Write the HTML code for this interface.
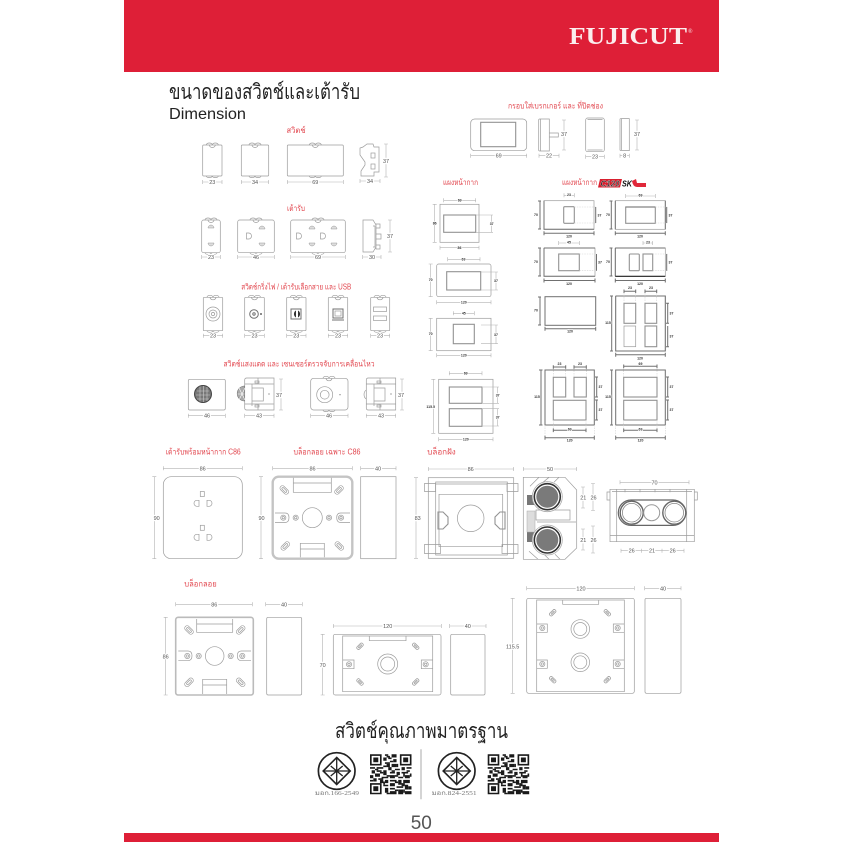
<!DOCTYPE html>
<html lang="th"><head><meta charset="utf-8"><title>Dimension</title>
<style>
html,body{margin:0;padding:0;background:#fff}
svg{display:block;filter:blur(.3px)}
text{font-family:"Liberation Sans","Noto Sans CJK SC",sans-serif}
.l{fill:none;stroke:#9c9c9c;stroke-width:.7}
.l2{fill:none;stroke:#929292;stroke-width:1.1}
.d{fill:none;stroke:#b2b2b2;stroke-width:.6}
.e{fill:none;stroke:#d2d2d2;stroke-width:.6;stroke-dasharray:1.5 1}
.k{fill:none;stroke:#707070;stroke-width:1}
.t{font-size:5.5px;fill:#555;text-anchor:middle;paint-order:stroke;stroke:#fff;stroke-width:2.4px}
.s{font-size:3.5px;font-weight:bold;fill:#333;text-anchor:middle;paint-order:stroke;stroke:#fff;stroke-width:1.5px}
.r{font-size:8px;fill:#e2474f;text-anchor:middle}
</style></head><body>
<svg width="842" height="842" viewBox="0 0 842 842" xmlns="http://www.w3.org/2000/svg">
<defs>
<g id="b"><path class="l" d="M-6 0a3 2 0 0 1 6 0a3 2 0 0 1 6 0M-3 0a3 2.5 0 0 0 6 0"/></g>
<g id="c"><path class="l" d="M-6 0a3 1.6 0 0 0 6 0a3 1.6 0 0 0 6 0"/></g>
<g id="so"><path d="M-3 1a3 3 0 0 1 6 0z" fill="#ddd" stroke="#999" stroke-width=".5"/></g>
<g id="su"><path d="M-3 -1a3 3 0 0 0 6 0z" fill="#ddd" stroke="#999" stroke-width=".5"/></g>
<path id="dd" class="l" d="M-2.5 -3h2.2a2.8 3 0 0 1 0 6h-2.2z"/>
<g id="sl"><rect x="-5" y="-2.4" width="10" height="4.8" rx="2.2" class="l"/><rect x="-3" y="-1" width="6" height="2" rx="1" class="l"/></g>
<g id="sm"><rect x="-3.8" y="-1.7" width="7.6" height="3.4" rx="1.6" class="l"/><rect x="-2" y="-.6" width="4" height="1.2" rx=".6" class="l"/></g>
<g id="cc"><circle r="2.6" class="l"/><circle r="1.2" class="l"/></g>
<g id="std"><circle r="18.3" fill="none" stroke="#222" stroke-width="1.7"/><path d="M0 -13.5L13.5 0L0 13.5L-13.5 0Z" fill="none" stroke="#222" stroke-width="1.6"/><path d="M0 -13.5V13.5M-13.5 0H13.5M-6 -5L0 0L6 -5M-6 5L0 0L6 5" fill="none" stroke="#222" stroke-width="1.3"/></g>
<g id="qr" fill="#1a1a1a">
<path d="M0 0h7v7h-7zM1 1v5h5v-5zM2 2h3v3h-3zM18 0h7v7h-7zM19 1v5h5v-5zM20 2h3v3h-3zM0 18h7v7h-7zM1 19v5h5v-5zM2 20h3v3h-3z" fill-rule="evenodd"/>
<path d="M9 0h2v1h-2zM13 0h3v2h-3zM8 2h2v2h-2zM11 2h2v1h-2zM14 3h2v2h-2zM9 5h3v1h-3zM13 6h3v2h-3zM8 7h2v1h-2zM0 8h3v1h-3zM4 8h4v1h-4zM11 8h2v2h-2zM15 9h3v1h-3zM19 8h2v2h-2zM22 8h3v1h-3zM1 10h2v2h-2zM4 10h3v1h-3zM8 10h2v3h-2zM12 11h3v1h-3zM16 11h2v2h-2zM19 11h4v1h-4zM0 13h2v2h-2zM3 12h3v2h-3zM7 14h4v1h-4zM12 13h3v2h-3zM17 14h3v1h-3zM21 13h3v2h-3zM2 15h2v2h-2zM5 15h3v1h-3zM9 16h2v2h-2zM12 16h4v1h-4zM17 16h2v3h-2zM20 16h4v2h-4zM8 19h3v1h-3zM12 18h3v2h-3zM16 20h4v1h-4zM21 19h2v3h-2zM9 21h2v3h-2zM12 21h3v1h-3zM17 22h3v3h-3zM12 23h4v2h-4zM21 23h4v2h-4z"/>
<path d="M10 1h2v1h-2zM12 4h2v1h-2zM10 6h2v2h-2zM16 6h1v2h-1zM3 9h2v1h-2zM13 10h2v1h-2zM22 10h2v1h-2zM6 11h2v1h-2zM24 12h1v2h-1zM10 13h2v1h-2zM15 13h2v1h-2zM20 12h1v2h-1zM6 16h2v2h-2zM0 16h2v1h-2zM15 17h2v1h-2zM19 18h2v2h-2zM23 20h2v2h-2zM15 22h2v1h-2zM10 24h2v1h-2zM8 17h1v2h-1zM20 22h1v2h-1z"/>
</g>
</defs>

<!-- header / footer -->
<rect x="124" y="0" width="595" height="72" fill="#de1f37"/>
<rect x="124" y="833" width="595" height="9" fill="#de1f37"/>
<text x="569" y="44" font-size="24" font-weight="bold" fill="#fbeeee" textLength="118" lengthAdjust="spacingAndGlyphs" style='font-family:"Liberation Serif",serif'>FUJICUT</text>
<text x="688" y="33" font-size="6" fill="#fbeeee" style='font-family:"Liberation Serif",serif'>®</text>

<text x="169" y="99" font-size="21" fill="#222" textLength="191" lengthAdjust="spacingAndGlyphs">ขนาดของสวิตช์และเต้ารับ</text>
<text x="169" y="119" font-size="16" fill="#222" textLength="77" lengthAdjust="spacingAndGlyphs">Dimension</text>

<!-- row 1 switch -->
<text class="r" x="296" y="133" textLength="19" lengthAdjust="spacingAndGlyphs">สวิตช์</text>
<rect class="l" x="202.7" y="145" width="19.3" height="31" rx="1"/><use href="#b" x="212.3" y="145"/><use href="#c" x="212.3" y="176"/>
<rect class="l" x="241.3" y="145" width="27.4" height="31" rx="1"/><use href="#b" x="255" y="145"/><use href="#c" x="255" y="176"/>
<rect class="l" x="287.3" y="145" width="56" height="31" rx="1"/><use href="#b" x="315.3" y="145"/><use href="#c" x="315.3" y="176"/>
<path class="l" d="M367 144h6l1 3h5v25h-5v4h-13v-5l4-6v-3l-5-7v-7l3-1z"/><rect class="l" x="371" y="153" width="4" height="5"/><rect class="l" x="371" y="164" width="4" height="5"/>
<path class="d" d="M202.7 182H222M202.7 180v4M222 180v4M241.3 182H268.7M241.3 180v4M268.7 180v4M287.3 182H343.3M287.3 180v4M343.3 180v4M360 181H380M360 179v4M380 179v4M386 144V177M384 144h4M384 177h4"/>
<text class="t" x="212.3" y="184">23</text><text class="t" x="255" y="184">34</text><text class="t" x="315.3" y="184">69</text><text class="t" x="370" y="183">34</text><text class="t" x="386" y="163">37</text>

<!-- row 2 socket -->
<text class="r" x="296" y="211" textLength="18" lengthAdjust="spacingAndGlyphs">เต้ารับ</text>
<rect class="l" x="201.7" y="220" width="18.6" height="32.7" rx="2"/><use href="#b" x="211" y="220"/><use href="#c" x="211" y="252.7"/><use href="#so" x="211" y="227"/><use href="#su" x="211" y="244"/>
<rect class="l" x="237.7" y="220" width="36.6" height="32.7" rx="2"/><use href="#b" x="256" y="220"/><use href="#c" x="256" y="252.7"/><use href="#dd" x="249" y="236"/><use href="#so" x="262" y="228"/><use href="#su" x="262" y="244"/>
<rect class="l" x="290.7" y="220" width="54.6" height="32.7" rx="2"/><use href="#b" x="318" y="220"/><use href="#c" x="318" y="252.7"/><use href="#dd" x="299" y="236"/><use href="#so" x="312" y="228"/><use href="#su" x="312" y="244"/><use href="#dd" x="323" y="236"/><use href="#so" x="334" y="228"/><use href="#su" x="334" y="244"/>
<path class="l" d="M363 220h10l3 5v22l-3 5h-10zM373 226h2v21h-2M376 224h4v4h-4zM376 234h5v5h-5zM376 245h4v4h-4z"/>
<path class="d" d="M201.7 257H220.3M201.7 255v4M220.3 255v4M237.7 257H274.3M237.7 255v4M274.3 255v4M290.7 257H345.3M290.7 255v4M345.3 255v4M362.7 257H381M362.7 255v4M381 255v4M390 220V252M388 220h4M388 252h4"/>
<text class="t" x="211" y="259">23</text><text class="t" x="256" y="259">46</text><text class="t" x="318" y="259">69</text><text class="t" x="372" y="259">30</text><text class="t" x="390" y="238">37</text>

<!-- row 3 -->
<text class="r" x="296.3" y="289.5" textLength="110" lengthAdjust="spacingAndGlyphs">สวิตช์กริ่งไฟ / เต้ารับเลือกสาย และ USB</text>
<rect class="l" x="203.3" y="297.3" width="19.4" height="33.4" rx="1"/><use href="#b" x="213" y="297.3"/><use href="#c" x="213" y="330.7"/><circle class="l" cx="213" cy="314" r="7"/><circle class="l" cx="213" cy="314" r="4"/><circle class="l" cx="213" cy="314" r="1.6"/>
<rect class="l" x="244.7" y="297.3" width="19.6" height="33.4" rx="1"/><use href="#b" x="254.5" y="297.3"/><use href="#c" x="254.5" y="330.7"/><circle class="k" cx="254" cy="314" r="4.3"/><circle class="k" cx="254" cy="314" r="1.2"/><circle cx="261" cy="314" r="1" fill="#666"/>
<rect class="l" x="286.7" y="297.3" width="19.3" height="33.4" rx="1"/><use href="#b" x="296.3" y="297.3"/><use href="#c" x="296.3" y="330.7"/><rect class="k" x="291" y="309" width="10" height="10"/><path d="M296 310.5a4 4 0 0 0 0 7zM298 310.5a4 4 0 0 1 0 7z" fill="#333"/>
<rect class="l" x="328.3" y="297.3" width="19.4" height="33.4" rx="1"/><use href="#b" x="338" y="297.3"/><use href="#c" x="338" y="330.7"/><rect class="k" x="333" y="309" width="10" height="9"/><rect class="l" x="335" y="311" width="6" height="5"/><path class="k" d="M332 320h12"/>
<rect class="l" x="370.7" y="297.3" width="19" height="33.4" rx="1"/><use href="#b" x="380" y="297.3"/><use href="#c" x="380" y="330.7"/><rect class="l" x="373.5" y="307" width="13" height="4.5"/><rect class="l" x="373.5" y="316" width="13" height="4.5"/>
<path class="d" d="M203.3 335.7H222.7M203.3 333.7v4M222.7 333.7v4M244.7 335.7H264.3M244.7 333.7v4M264.3 333.7v4M286.7 335.7H306M286.7 333.7v4M306 333.7v4M328.3 335.7H347.7M328.3 333.7v4M347.7 333.7v4M370.7 335.7H389.7M370.7 333.7v4M389.7 333.7v4"/>
<text class="t" x="213" y="337.7">23</text><text class="t" x="254.5" y="337.7">23</text><text class="t" x="296.3" y="337.7">23</text><text class="t" x="338" y="337.7">23</text><text class="t" x="380" y="337.7">23</text>

<!-- row 4 -->
<text class="r" x="299" y="366.5" textLength="151" lengthAdjust="spacingAndGlyphs">สวิตช์แสงแดด และ เซนเซอร์ตรวจจับการเคลื่อนไหว</text>
<rect class="l" x="188.3" y="379.3" width="37" height="30.7" rx="1.5"/>
<circle cx="203" cy="394" r="8.5" fill="#777" stroke="#444"/>
<path d="M197 391h12M196 395h14M197 399h12M200 386.5v15M203.5 386v16M207 387v14" stroke="#ccc" stroke-width=".6" fill="none"/>
<path class="l" d="M244.7 380q0-2 2-2h27.3v32h-27.3q-2 0-2-2z"/><path class="l" d="M244.7 384h29M244.7 404h29M252 384v22M252.3 388h11v13h-11M258 378v6M258 404v6"/><rect class="l" x="255" y="381" width="4" height="2"/><rect class="l" x="255" y="405" width="4" height="2"/><circle cx="269" cy="394" r=".6" fill="#666"/>
<path d="M244.7 386a7 7 0 0 0 0 15z" fill="#aaa" stroke="#777" stroke-width=".6"/><path d="M239 388l6 12M237.5 394h7M239 400l6-12" stroke="#fff" stroke-width=".6" fill="none"/>
<rect class="l" x="310.7" y="378.3" width="37.3" height="31.7" rx="3"/><use href="#b" x="329" y="378.3"/><use href="#c" x="329" y="410"/><circle class="l" cx="324.7" cy="394.7" r="8"/><circle class="l" cx="324.7" cy="394.7" r="4.4"/><circle cx="340" cy="394.7" r=".6" fill="#666"/>
<path class="l" d="M366.3 380q0-2 2-2h27.4v32h-27.4q-2 0-2-2z"/><path class="l" d="M366.3 384h29.4M366.3 404h29.4M374 384v22M374 388h11v13h-11M380 378v6M380 404v6"/><rect class="l" x="377" y="381" width="4" height="2"/><rect class="l" x="377" y="405" width="4" height="2"/><circle cx="391" cy="394" r=".6" fill="#666"/><path class="l" d="M366.3 390a4 5 0 0 0 0 9"/>
<path class="d" d="M188.3 415.7H225.3M188.3 413.7v4M225.3 413.7v4M244.7 415.7H274M244.7 413.7v4M274 413.7v4M310.7 415.7H348M310.7 413.7v4M348 413.7v4M366.3 415.7H395.7M366.3 413.7v4M395.7 413.7v4M281 379V410M279 379h4M279 410h4M402 379V410M400 379h4M400 410h4"/>
<text class="t" x="207" y="417.7">46</text><text class="t" x="259" y="417.7">43</text><text class="t" x="329" y="417.7">46</text><text class="t" x="381" y="417.7">43</text><text class="t" x="279" y="397">37</text><text class="t" x="401" y="397">37</text>

<!-- frame / cover -->
<text class="r" x="555.5" y="108.5" textLength="95" lengthAdjust="spacingAndGlyphs">กรอบใส่เบรกเกอร์ และ ที่ปิดช่อง</text>
<rect class="l" x="470.7" y="119" width="56" height="31.7" rx="4"/><rect class="l2" x="480.7" y="122.3" width="35" height="24.4"/>
<path class="l" d="M538.7 120q0-1 1-1h9.6v32h-9.6q-1 0-1-1zM549.3 133h9v4h-9zM540.5 119v32"/>
<rect class="l" x="585.7" y="118" width="18.6" height="33.7" rx="2"/><path class="l" d="M587.5 150h15M587.5 119.5h15"/>
<path class="l" d="M620 119q0-.4 1-.4h8.3v32h-8.3q-1 0-1-.6zM621.5 119v31"/>
<path class="d" d="M470.7 155.7H526.7M470.7 153.7v4M526.7 153.7v4M539 155.7H559M539 153.7v4M559 153.7v4M585.7 156.7H604.3M585.7 154.7v4M604.3 154.7v4M620 155.7H629.3M620 153.7v4M629.3 153.7v4M564 120V150M562 120h4M562 150h4M637 120V150M635 120h4M635 150h4"/>
<text class="t" x="498.7" y="157.7">69</text><text class="t" x="549" y="157.7">22</text><text class="t" x="595" y="158.7">23</text><text class="t" x="624.7" y="157.7">8</text><text class="t" x="564" y="136">37</text><text class="t" x="637" y="136">37</text>

<!-- left face plates -->
<text class="r" x="460.5" y="185" textLength="35" lengthAdjust="spacingAndGlyphs">แผงหน้ากาก</text>
<g>
<rect class="l" x="440" y="204.3" width="39" height="38"/><rect class="l2" x="443.7" y="215" width="32" height="17.3"/>
<path class="d" d="M443.7 200.3H475.7M443.7 198.3v4M475.7 198.3v4M434.7 204.3V242.3M432.7 204.3h4M432.7 242.3h4M440 247.7H479M440 245.7v4M479 245.7v4M491.7 215V232.3M476 215h17M476 232.3h17"/>
<text class="s" x="459.7" y="201.5">69</text><text class="s" x="434.7" y="224.5">86</text><text class="s" x="459.5" y="249">86</text><text class="s" x="491.7" y="225">37</text>
<rect class="l" x="436.7" y="264" width="54.3" height="32.7" rx="2"/><rect class="l2" x="446.7" y="271.7" width="34" height="18.3"/>
<path class="d" d="M447.7 259.3H480M447.7 257.3v4M480 257.3v4M430.7 264V296.7M428.7 264h4M428.7 296.7h4M436.7 302.3H491M436.7 300.3v4M491 300.3v4M496 272V290M481 272h17M481 290h17"/>
<text class="s" x="463.5" y="260.5">69</text><text class="s" x="430.7" y="281">70</text><text class="s" x="463.8" y="303.5">120</text><text class="s" x="496" y="282">37</text>
<rect class="l" x="436.7" y="318.3" width="54.3" height="32.4"/><rect class="l2" x="453.3" y="324.3" width="21" height="19.4"/>
<path class="d" d="M453.3 313.3H474.3M453.3 311.3v4M474.3 311.3v4M430.7 318.3V350.7M428.7 318.3h4M428.7 350.7h4M436.7 355.3H491M436.7 353.3v4M491 353.3v4M496 325V343.7M481 325h17M481 343.7h17"/>
<text class="s" x="463.8" y="314.5">45</text><text class="s" x="430.7" y="335">70</text><text class="s" x="463.8" y="356.5">120</text><text class="s" x="496" y="336">37</text>
<rect class="l" x="438.7" y="379.3" width="54.3" height="54"/><rect class="l2" x="449.3" y="387" width="32.7" height="16.3"/><rect class="l2" x="449.3" y="408.7" width="32.7" height="17.6"/>
<path class="d" d="M449.3 373.3H482M449.3 371.3v4M482 371.3v4M433.3 379.3V433.3M431.3 379.3h4M431.3 433.3h4M438.7 439.3H493M438.7 437.3v4M493 437.3v4M497.7 387V403.3M497.7 408.7V426M483 387h16M483 403.3h16M483 408.7h16M483 426h16"/>
<text class="s" x="465.7" y="374.5">69</text><text class="s" x="430.7" y="408">115.5</text><text class="s" x="465.8" y="440.5">120</text><text class="s" x="497.7" y="396.5">37</text><text class="s" x="497.7" y="418.5">37</text>
</g>

<!-- C120 -->
<text class="r" x="579.5" y="185" textLength="35" lengthAdjust="spacingAndGlyphs">แผงหน้ากาก</text>
<path d="M600 179H622L620 187.5H598Z" fill="#d8202f"/>
<text x="600.5" y="186.5" font-size="8" font-weight="bold" font-style="italic" fill="#222" textLength="19" lengthAdjust="spacingAndGlyphs" stroke="#fff" stroke-width=".25">C120</text>
<text x="622" y="186.5" font-size="8" font-weight="bold" font-style="italic" fill="#111" textLength="10" lengthAdjust="spacingAndGlyphs">SK</text>
<path d="M632 181l4-2 1 4h9v4h-9q-4 0-5-6z" fill="#e0283a"/>
<g>
<!-- A -->
<rect class="l" x="544" y="200.7" width="50" height="28.6"/><path class="k" d="M544 200.7V229.3H594"/><rect class="l2" x="563.7" y="206.7" width="10.6" height="16.6" rx="1"/>
<path class="e" d="M574.3 207H596M574.3 223H596"/>
<path class="d" d="M564 195.3H574.3M564 193.3v4M574.3 193.3v4"/>
<path class="k" stroke-width=".7" d="M540 201V229M538 201h3M538 229h3M544 233.3H594M544 231.3v4M594 231.3v4M595.7 207V223"/>
<text class="s" x="569" y="196">23</text><text class="s" x="536" y="216">70</text><text class="s" x="569" y="237.5">120</text><text class="s" x="599.5" y="216.5">37</text>
<!-- B -->
<rect class="l" x="615.3" y="200.7" width="50" height="28.6"/><path class="k" d="M615.3 200.7V229.3M665.3 200.7V229.3"/><rect class="l2" x="625.7" y="207" width="29.6" height="16.3"/><path class="k" d="M625.7 207H655"/>
<path class="e" d="M655.3 207H668M655.3 223H668"/>
<path class="d" d="M625.7 196H655.3M625.7 194v4M655.3 194v4"/>
<path class="k" stroke-width=".7" d="M611.3 201V229M609.5 201h3M609.5 229h3M615.3 233.3H665.3M615.3 231.3v4M665.3 231.3v4M666.7 207V223"/>
<text class="s" x="640.5" y="196.5">69</text><text class="s" x="608" y="216">70</text><text class="s" x="640" y="237.5">120</text><text class="s" x="670.5" y="216.5">37</text>
<!-- C -->
<rect class="l" x="544" y="248" width="51" height="28.3"/><path class="k" d="M544 248V276.3H595M544 248H595"/><rect class="l2" x="558.7" y="254" width="20.6" height="16.7"/>
<path class="e" d="M579.3 254H597M579.3 270.7H597"/>
<path class="d" d="M558.7 243H579.3M558.7 241v4M579.3 241v4"/>
<path class="k" stroke-width=".7" d="M540 248V276M538 248h3M538 276h3M544 280.5H595M544 278.5v4M595 278.5v4M596.5 254V270.7"/>
<text class="s" x="569" y="243.5">45</text><text class="s" x="536" y="263">70</text><text class="s" x="569" y="285">120</text><text class="s" x="600" y="263.5">37</text>
<!-- D -->
<rect class="l" x="615.3" y="248" width="50" height="28.3"/><path class="k" d="M615.3 248V276.3M615.3 248H665.3"/><path d="M615.3 276.3H665.3" stroke="#222" stroke-width="1.2"/><rect class="l2" x="629.3" y="254" width="10" height="16.7" rx="1"/><rect class="l2" x="643" y="254" width="9.7" height="16.7"/>
<path class="e" d="M652.7 254H668M652.7 270.7H668"/>
<path class="d" d="M643 243H652.7M643 241v4M652.7 241v4"/>
<path class="k" stroke-width=".7" d="M611.3 248V276M609.5 248h3M609.5 276h3M615.3 280.5H665.3M615.3 278.5v4M665.3 278.5v4M666.7 254V270.7"/>
<text class="s" x="648" y="243.5">23</text><text class="s" x="608" y="263">70</text><text class="s" x="640" y="285">120</text><text class="s" x="670.5" y="263.5">37</text>
<!-- E -->
<rect class="k" x="545" y="296.7" width="50.7" height="28.6"/>
<path class="k" stroke-width=".7" d="M540 297V325M538 297h3M538 325h3M545 328.7H595.7M545 326.7v4M595.7 326.7v4"/>
<text class="s" x="536" y="311.5">70</text><text class="s" x="570" y="332.5">120</text>
<!-- F -->
<rect class="l" x="615.7" y="296" width="49.6" height="55"/><path class="k" d="M615.7 296V351H665.3V296H615.7"/>
<rect class="l2" x="624" y="303.3" width="11.7" height="20"/><rect class="l" x="624" y="326" width="11.7" height="20.7"/><rect class="l2" x="645" y="303.3" width="11.7" height="20"/><rect class="l2" x="645" y="326" width="11.7" height="20.7"/>
<path class="e" d="M624 292V303M635.7 292V303M645 292V303M656.7 292V303"/>
<path class="k" stroke-width=".7" d="M624 291.3H635.7M645 291.3H656.7M624 289.5v3.6M635.7 289.5v3.6M645 289.5v3.6M656.7 289.5v3.6M611.7 296V351M610 296h3M610 351h3M615.7 354.7H665.3M615.7 352.7v4M665.3 352.7v4M667.7 303.3V323.3M667.7 326V346.7M666 303.3h3M666 323.3h3M666 346.7h3"/>
<text class="s" x="630" y="289">23</text><text class="s" x="651" y="289">23</text><text class="s" x="608" y="324">115</text><text class="s" x="640" y="359.5">120</text><text class="s" x="671.5" y="314.5">37</text><text class="s" x="671.5" y="337.5">37</text>
<!-- G -->
<path class="k" d="M545 370H594.3V425H545Z"/>
<rect class="l2" x="553.3" y="377.3" width="12.4" height="19.7"/><rect class="l2" x="574" y="377.3" width="12.3" height="19.7"/><rect class="l2" x="553.3" y="400.3" width="32.7" height="19.7"/>
<path class="e" d="M553.3 368V377M565.7 368V377M574 368V377M586.3 368V377M545 425V440M594.3 425V440M553.3 420V431M586 420V431"/>
<path class="k" stroke-width=".7" d="M553.3 367H565.7M574 367H586.3M553.3 365.2v3.6M565.7 365.2v3.6M574 365.2v3.6M586.3 365.2v3.6M541 370V425M539 370h3.5M539 425h3.5M553.3 430.3H586M553.3 428.5v3.6M586 428.5v3.6M545 437.7H594.3M545 435.7v4M594.3 435.7v4M596.7 377V397M596.7 400V420M595 377h3M595 397h3M595 400h3M595 420h3"/>
<text class="s" x="559.5" y="365">23</text><text class="s" x="580" y="365">23</text><text class="s" x="537" y="398">115</text><text class="s" x="569.7" y="430.5">69</text><text class="s" x="569.7" y="441.5">120</text><text class="s" x="600.5" y="388">37</text><text class="s" x="600.5" y="411">37</text>
<!-- H -->
<path class="k" d="M615.7 370H665.3V425H615.7Z"/>
<rect class="l2" x="623.7" y="377.3" width="33.3" height="19.7"/><rect class="l2" x="623.7" y="400.3" width="33.3" height="19.7"/>
<path class="e" d="M623.7 368V377M657 368V377M615.7 425V440M665.3 425V440M623.7 420V431M657 420V431"/>
<path class="k" stroke-width=".7" d="M623.7 366.3H657M623.7 364.5v3.6M657 364.5v3.6M611.7 370V425M610 370h3M610 425h3M623.7 430.3H657M623.7 428.5v3.6M657 428.5v3.6M615.7 437.7H665.3M615.7 435.7v4M665.3 435.7v4M667.7 377V397M667.7 400V420M666 377h3M666 397h3M666 400h3M666 420h3"/>
<text class="s" x="640.5" y="365">69</text><text class="s" x="608" y="398">115</text><text class="s" x="640.5" y="430.5">69</text><text class="s" x="640.5" y="441.5">120</text><text class="s" x="671.5" y="388">37</text><text class="s" x="671.5" y="411">37</text>
</g>

<!-- C86 row -->
<text class="r" x="203.2" y="454.5" textLength="75" lengthAdjust="spacingAndGlyphs">เต้ารับพร้อมหน้ากาก C86</text>
<rect class="l" x="163.3" y="476.7" width="79" height="82" rx="8"/>
<rect class="l" x="200.3" y="491.5" width="4" height="5"/><use href="#dd" x="196.5" y="503.3" transform="rotate(180 196.5 503.3)"/><use href="#dd" x="209.5" y="503.3"/>
<rect class="l" x="200.3" y="525.3" width="4" height="5"/><use href="#dd" x="196.5" y="537.3" transform="rotate(180 196.5 537.3)"/><use href="#dd" x="209.5" y="537.3"/>
<path class="d" d="M163.3 468.3H242.3M163.3 466.3v4M242.3 466.3v4M154.3 476.7V558.7M152.3 476.7h4M152.3 558.7h4"/>
<text class="t" x="202.7" y="470.3">86</text><text class="t" x="156.7" y="520">90</text>

<text class="r" x="327" y="454.5" textLength="67" lengthAdjust="spacingAndGlyphs">บล็อกลอย เฉพาะ C86</text>
<rect x="272.7" y="476.7" width="79.6" height="82" rx="6" fill="none" stroke="#c4c4c4" stroke-width="2.4"/>
<path class="l" d="M293.3 477.7V492.3H331.3V477.7M293.3 483H331.3M300.3 557.3V543.3H324.3V557.3M300.3 549H324.3"/>
<circle class="l" cx="312.3" cy="517.7" r="10"/>
<use href="#cc" x="295.7" y="517.7"/><use href="#cc" x="329" y="517.7"/>
<path class="l" d="M275 513H285q4 0 4 4.5q0 5-4 5H275M350 513H340.7q-4 0-4 4.5q0 5 4 5H350"/>
<use href="#cc" x="283.3" y="517.7"/><use href="#cc" x="341" y="517.7"/>
<use href="#sl" transform="translate(284.3 490) rotate(45)"/><use href="#sl" transform="translate(339 490) rotate(-45)"/><use href="#sl" transform="translate(285.3 546) rotate(-45)"/><use href="#sl" transform="translate(339.3 546) rotate(45)"/>
<rect class="l" x="360.7" y="476.7" width="35.3" height="82"/>
<path class="d" d="M272.7 468.3H352.3M272.7 466.3v4M352.3 466.3v4M261 476.7V558.7M259 476.7h4M259 558.7h4M360.7 468.3H396M360.7 466.3v4M396 466.3v4"/>
<text class="t" x="312.5" y="470.3">86</text><text class="t" x="261.5" y="520">90</text><text class="t" x="378" y="470.3">40</text>

<!-- flush box -->
<text class="r" x="441.5" y="454.5" textLength="28.5" lengthAdjust="spacingAndGlyphs">บล็อกฝัง</text>
<rect class="l" x="428.3" y="477.7" width="85.4" height="80.6"/>
<path class="l" d="M435.7 482H507.3V555H435.7ZM439 494.3H502.7V546.7H439ZM435.7 484H507M424.5 483.5h11v8h-11zM424.5 544.5h16v9h-16zM518 483.5h-11v8h11zM518 544.5h-16v9h16z"/>
<path class="l2" d="M438 512h5l5 5v7l-5 5h-5zM505 512h-5l-5 5v7l5 5h5z"/>
<circle class="l" cx="470.7" cy="518.3" r="13.3"/>
<path class="d" d="M428.3 469H513.7M428.3 467v4M513.7 467v4M416 477.7V558.3M414 477.7h4M414 558.3h4"/>
<text class="t" x="470.7" y="471">86</text><text class="t" x="417.7" y="520">83</text>

<path class="l" d="M523.3 477.3H565L576.7 490V548L565 559.3H523.3ZM539 477.3l-9 9M549 477.3l-6 5M559 477.3l-5 5M538 559.3l-9-8M549 559.3l-5-5M560 559.3l-5-5M536 510H570V520H536ZM537 522H576"/>
<rect x="527" y="495" width="9" height="10" fill="#777"/><rect x="527" y="532" width="9" height="10" fill="#777"/>
<rect x="527" y="511" width="8" height="21" fill="#ddd" stroke="#aaa" stroke-width=".5"/>
<circle cx="547.3" cy="496.7" r="15" fill="#fff" stroke="#aaa" stroke-width=".8"/><circle cx="547.3" cy="496.7" r="13" fill="none" stroke="#333" stroke-width="1.6"/><circle cx="547.3" cy="496.7" r="11" fill="#7a7a7a"/>
<circle cx="547.3" cy="540" r="15" fill="#fff" stroke="#aaa" stroke-width=".8"/><circle cx="547.3" cy="540" r="13" fill="none" stroke="#333" stroke-width="1.6"/><circle cx="547.3" cy="540" r="11" fill="#7a7a7a"/>
<path class="d" d="M523.3 469H576.7M523.3 467v4M576.7 467v4M583 487V508M581 487h4M581 508h4M593 483.5V510.5M591 483.5h4M591 510.5h4M583 529V550M581 529h4M581 550h4M593 526V553M591 526h4M591 553h4"/>
<text class="t" x="550" y="471">50</text><text class="t" x="583.3" y="499.5">21</text><text class="t" x="593.5" y="499.5">26</text><text class="t" x="583.3" y="542">21</text><text class="t" x="593.5" y="542">26</text>

<path class="l" d="M610 489.3H694.3V541.7H610ZM616.7 489.3V541.7M686.7 489.3V541.7M612 491.5H692M610 492h-3v8h3M694.3 492h3v8h-3M610 535.5H694.3M625 489.3v3M640 489.3v3M655 489.3v3M670 489.3v3"/>
<rect x="618.3" y="500" width="67.4" height="25.4" rx="12.7" fill="#fff" stroke="#666" stroke-width="1.2"/>
<circle cx="631.7" cy="512.7" r="11.5" fill="#fff" stroke="#666" stroke-width="1.4"/><circle cx="631.7" cy="512.7" r="9.3" fill="#fff" stroke="#888" stroke-width=".8"/>
<circle cx="651.7" cy="512.7" r="8" fill="#fff" stroke="#999"/>
<circle cx="674.3" cy="512.7" r="11.5" fill="#fff" stroke="#666" stroke-width="1.4"/><circle cx="674.3" cy="512.7" r="9.3" fill="#fff" stroke="#888" stroke-width=".8"/>
<path class="d" d="M620 482.3H689M620 480.3v4M689 480.3v4M621 550.7H684M621 548.7v4M684 548.7v4M641.5 548.7v4M662 548.7v4"/>
<text class="t" x="654.5" y="484.3">70</text><text class="t" x="631.7" y="552.7">26</text><text class="t" x="652" y="552.7">21</text><text class="t" x="672.7" y="552.7">26</text>

<!-- surface boxes -->
<text class="r" x="200.5" y="586.3" textLength="32.4" lengthAdjust="spacingAndGlyphs">บล็อกลอย</text>
<rect x="175.7" y="617.3" width="77.6" height="77.7" rx="2.5" fill="none" stroke="#bbb" stroke-width="1.6"/>
<path class="l" d="M196.7 619V632.3H232.7V619M196.7 624H232.7M202.7 694V679.3H226.7V694M202.7 685H226.7"/>
<circle class="l" cx="214.7" cy="656" r="9.3"/>
<use href="#cc" x="198.7" y="656"/><use href="#cc" x="230.7" y="656"/>
<path class="l" d="M178.3 651H188q4 0 4 4.8t-4 4.9H178.3M251 651H241.3q-4 0-4 4.8t4 4.9H251"/>
<use href="#cc" x="187.3" y="656"/><use href="#cc" x="242.3" y="656"/>
<use href="#sl" transform="translate(189 630) rotate(45)"/><use href="#sl" transform="translate(240.7 630) rotate(-45)"/><use href="#sl" transform="translate(189 682.3) rotate(-45)"/><use href="#sl" transform="translate(240.7 682.3) rotate(45)"/>
<rect class="l" x="266.7" y="617.3" width="35" height="77.7" rx="1.5"/>
<path class="d" d="M175.7 604.3H252.3M175.7 602.3v4M252.3 602.3v4M165.7 617.3V695M163.7 617.3h4M163.7 695h4M265.7 604.3H302.3M265.7 602.3v4M302.3 602.3v4"/>
<text class="t" x="214.3" y="606.3">86</text><text class="t" x="165.7" y="658.7">86</text><text class="t" x="284" y="606.3">40</text>

<rect class="l" x="333.3" y="634.3" width="107.7" height="60.7" rx="2"/><path class="l" d="M342.7 636V691.7H432.7V636ZM369.3 636V640.7H406V636"/>
<circle class="l" cx="387.7" cy="664" r="10"/><circle class="l" cx="387.7" cy="664" r="7"/>
<path class="l" d="M342.7 660H354v8.7H342.7M432.7 660H421.3v8.7H432.7"/><use href="#cc" x="349" y="664.3"/><use href="#cc" x="425.7" y="664.3"/>
<use href="#sm" transform="translate(360 646.3) rotate(-45)"/><use href="#sm" transform="translate(415.7 646.3) rotate(45)"/><use href="#sm" transform="translate(360 682) rotate(45)"/><use href="#sm" transform="translate(415.7 682) rotate(-45)"/>
<rect class="l" x="450.7" y="634.3" width="34.3" height="60.7" rx="1.5"/>
<path class="d" d="M333.3 626H441.3M333.3 624v4M441.3 624v4M322.7 634.3V695M320.7 634.3h4M320.7 695h4M449.7 626H486M449.7 624v4M486 624v4"/>
<text class="t" x="387.7" y="628">120</text><text class="t" x="322.7" y="667">70</text><text class="t" x="467.8" y="628">40</text>

<rect class="l" x="526.7" y="598.3" width="107.6" height="95" rx="2"/><path class="l" d="M536.7 600V691.7H624.3V600ZM562.7 600V604.3H598.7V600"/>
<circle class="l" cx="580.3" cy="629" r="9.3"/><circle class="l" cx="580.3" cy="629" r="6.5"/><circle class="l" cx="580.3" cy="662.3" r="9.3"/><circle class="l" cx="580.3" cy="662.3" r="6.5"/>
<path class="l" d="M536.7 624H547.3v8.3H536.7M536.7 660H547.3v8.3H536.7M624.3 624H613.3v8.3H624.3M624.3 660H613.3v8.3H624.3"/>
<use href="#cc" x="542.3" y="628"/><use href="#cc" x="542.3" y="664"/><use href="#cc" x="617.7" y="628"/><use href="#cc" x="617.7" y="664"/>
<use href="#sm" transform="translate(552.7 612.7) rotate(-45)"/><use href="#sm" transform="translate(607.3 612.7) rotate(45)"/><use href="#sm" transform="translate(552.7 679.7) rotate(45)"/><use href="#sm" transform="translate(607.3 679.7) rotate(-45)"/>
<rect class="l" x="645" y="598.3" width="36" height="95" rx="1.5"/>
<path class="d" d="M526.7 588.3H634.3M526.7 586.3v4M634.3 586.3v4M512.7 598.3V693.3M510.7 598.3h4M510.7 693.3h4M644.7 588.3H681M644.7 586.3v4M681 586.3v4"/>
<text class="t" x="581" y="590.3">120</text><text class="t" x="512.7" y="648.7">115.5</text><text class="t" x="663" y="590.3">40</text>

<!-- standards -->
<text x="421.5" y="738" font-size="21" fill="#222" text-anchor="middle" textLength="173" lengthAdjust="spacingAndGlyphs">สวิตช์คุณภาพมาตรฐาน</text>
<use href="#std" x="336.7" y="771"/>
<use href="#std" x="456.7" y="771"/>
<text x="315" y="795" font-size="6" fill="#777" textLength="44" lengthAdjust="spacingAndGlyphs" style='font-family:"Liberation Serif",serif'>มอก.166-2549</text>
<text x="431.7" y="795" font-size="6" fill="#777" textLength="45" lengthAdjust="spacingAndGlyphs" style='font-family:"Liberation Serif",serif'>มอก.824-2551</text>
<use href="#qr" transform="translate(370 754.3) scale(1.66 1.6)"/>
<use href="#qr" transform="translate(487.7 754.3) scale(1.66 1.6)"/>
<path d="M421 749.3V799.3" stroke="#aaa" stroke-width="1"/>
<text x="421.3" y="829" font-size="19" fill="#555" text-anchor="middle">50</text>
</svg>
</body></html>
